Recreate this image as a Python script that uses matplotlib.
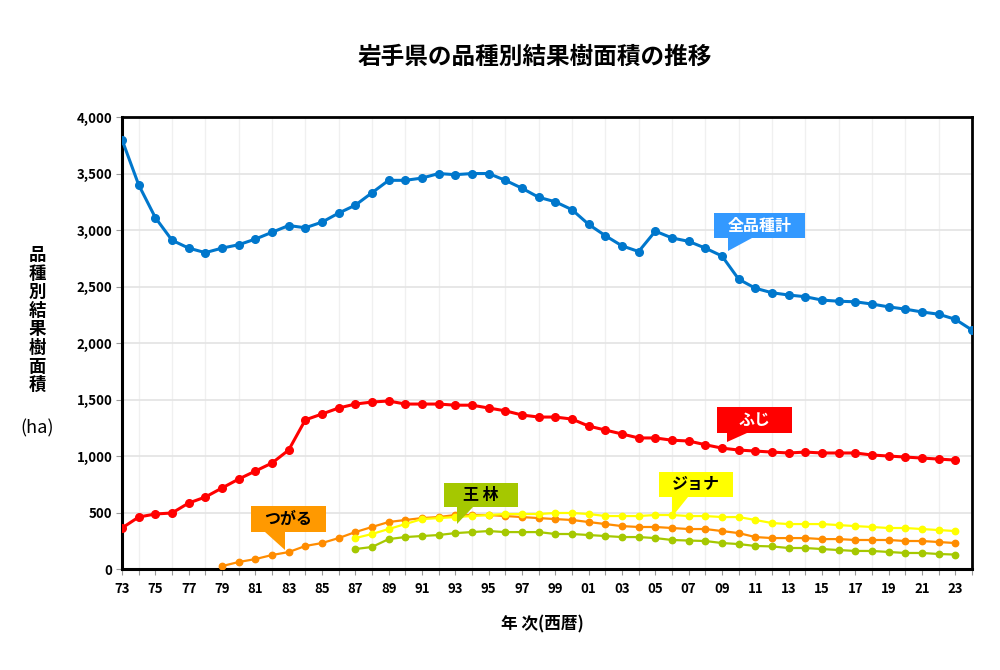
import numpy as np
import matplotlib
matplotlib.use("Agg")
import matplotlib.pyplot as plt
from matplotlib.patches import Polygon
from matplotlib.ticker import FuncFormatter, MultipleLocator

plt.rcParams['font.family'] = ['Noto Sans CJK JP', 'DejaVu Sans']

title = "岩手県の品種別結果樹面積の推移"
ylabel_chars = "品種別結果樹面積"
xlabel = "年 次(西暦)"

# 1973 - 2024
total_years = list(range(1973, 2025))
total = [3800, 3400, 3110, 2910, 2840, 2800, 2840, 2870, 2920, 2980,
         3040, 3020, 3070, 3150, 3220, 3330, 3440, 3440, 3460, 3500,
         3490, 3500, 3500, 3440, 3370, 3290, 3250, 3180, 3050, 2950,
         2860, 2810, 2990, 2930, 2900, 2840, 2770, 2565, 2485, 2445,
         2425, 2410, 2380, 2370, 2365, 2345, 2320, 2300, 2275, 2255,
         2210, 2115]

# 1973 - 2023
fuji_years = list(range(1973, 2024))
fuji = [363, 460, 487, 496, 584, 637, 717, 796, 867, 938,
        1053, 1320, 1372, 1425, 1460, 1478, 1487, 1460, 1460, 1460,
        1450, 1450, 1425, 1400, 1363, 1345, 1345, 1327, 1265, 1230,
        1195, 1160, 1160, 1140, 1133, 1100, 1070, 1053, 1044, 1035,
        1027, 1035, 1027, 1027, 1027, 1009, 1000, 991, 982, 973,
        964]

# 1979 - 2023
tsugaru_years = list(range(1979, 2024))
tsugaru = [26, 62, 88, 124, 150, 204, 230, 274, 327, 372,
           416, 434, 451, 460, 478, 478, 478, 469, 460, 451,
           442, 434, 416, 398, 380, 372, 372, 363, 354, 354,
           336, 318, 283, 274, 274, 274, 265, 265, 257, 257,
           257, 248, 248, 239, 230]

# 1987 - 2023
jona_years = list(range(1987, 2024))
jona = [274, 310, 354, 398, 442, 451, 460, 469, 478, 487,
        487, 487, 496, 496, 487, 469, 469, 469, 478, 478,
        469, 469, 460, 460, 434, 407, 398, 398, 398, 389,
        380, 372, 363, 363, 354, 345, 336]

# 1987 - 2023
orin_years = list(range(1987, 2024))
orin = [177, 195, 265, 283, 292, 301, 318, 327, 336, 327,
        327, 327, 310, 310, 301, 292, 283, 283, 274, 257,
        252, 248, 230, 221, 204, 200, 186, 186, 177, 168,
        160, 160, 151, 142, 142, 133, 128]

c_total = "#0077cc"
c_fuji = "#ff0000"
c_tsugaru = "#ff8c00"
c_jona = "#ffff00"
c_orin = "#a5c800"

fig = plt.figure(figsize=(10, 6.7), dpi=100)
ax = fig.add_axes([0.122, 0.1507, 0.85, 0.6746])

ax.plot(orin_years, orin, color=c_orin, lw=1.6, marker="o", ms=4.6, zorder=3)
ax.plot(tsugaru_years, tsugaru, color=c_tsugaru, lw=1.6, marker="o", ms=4.6, zorder=3)
ax.plot(jona_years, jona, color=c_jona, lw=1.6, marker="o", ms=4.6, zorder=3)
ax.plot(fuji_years, fuji, color=c_fuji, lw=2.2, marker="o", ms=5.5, zorder=4)
ax.plot(total_years, total, color=c_total, lw=2.2, marker="o", ms=5.5, zorder=4)

ax.set_xlim(1973, 2024)
ax.set_ylim(0, 4000)
ax.yaxis.set_major_locator(MultipleLocator(500))
ax.yaxis.set_major_formatter(FuncFormatter(lambda v, p: f"{int(v):,}"))
ax.set_xticks(range(1973, 2024, 2))
ax.set_xticks(range(1973, 2025), minor=True)
ax.set_xticklabels([f"{y % 100:02d}" for y in range(1973, 2024, 2)])

for lab in ax.get_xticklabels() + ax.get_yticklabels():
    lab.set_fontweight("bold")
    lab.set_fontsize(9.5)

ax.tick_params(axis="both", which="both", length=4, color="#999999", width=0.8, pad=3)
ax.tick_params(axis="x", which="major", pad=5)

ax.grid(axis="y", color="#e3e3e3", lw=1.2, zorder=0)
ax.grid(axis="x", which="minor", color="#f0f0f0", lw=1.0, zorder=0)
ax.set_axisbelow(True)

for s in ["left", "bottom"]:
    ax.spines[s].set_linewidth(2.2)
for s in ["top", "right"]:
    ax.spines[s].set_linewidth(2.0)

fig.text(0.535, 0.915, title, ha="center", va="center", fontsize=17, fontweight="bold")
fig.text(0.542, 0.068, xlabel, ha="center", va="center", fontsize=12, fontweight="bold")

for i, ch in enumerate(ylabel_chars):
    fig.text(0.037, 1 - (255 + i * 18.6) / 670, ch, ha="center", va="center",
             fontsize=12.5, fontweight="bold")
fig.text(0.037, 1 - 428 / 670, "(ha)", ha="center", va="center", fontsize=13)


def callout(box, base, tip, color, text, tcolor):
    # box: (x0, y0, x1, y1) pixels, base: (xa, xb) pixels on bottom edge
    x0, y0, x1, y1 = box
    pts = [(x0, y0), (x1, y0), (x1, y1), (base[1], y1), tip, (base[0], y1), (x0, y1)]
    pts = [(px / 1000, 1 - py / 670) for px, py in pts]
    fig.patches.append(Polygon(pts, closed=True, facecolor=color, edgecolor="none",
                               transform=fig.transFigure, zorder=5))
    fig.text((x0 + x1) / 2000, 1 - (y0 + y1) / 1340, text, ha="center", va="center",
             color=tcolor, fontsize=11.5, fontweight="bold", zorder=6)


callout((714, 213, 805, 238), (728, 752), (728, 251), "#3399ff", "全品種計", "white")
callout((717, 407, 792, 433), (727, 747), (727, 442), "#ff0000", "ふじ", "white")
callout((659, 472, 733, 497), (672, 688), (672, 517), "#ffff00", "ジョナ", "black")
callout((444, 483, 518, 507), (457, 473), (457, 524), "#a5c800", "王 林", "black")
callout((251, 506, 326, 532), (265, 285), (285, 550), "#ff9900", "つがる", "black")

fig.savefig("out.png", dpi=100)
